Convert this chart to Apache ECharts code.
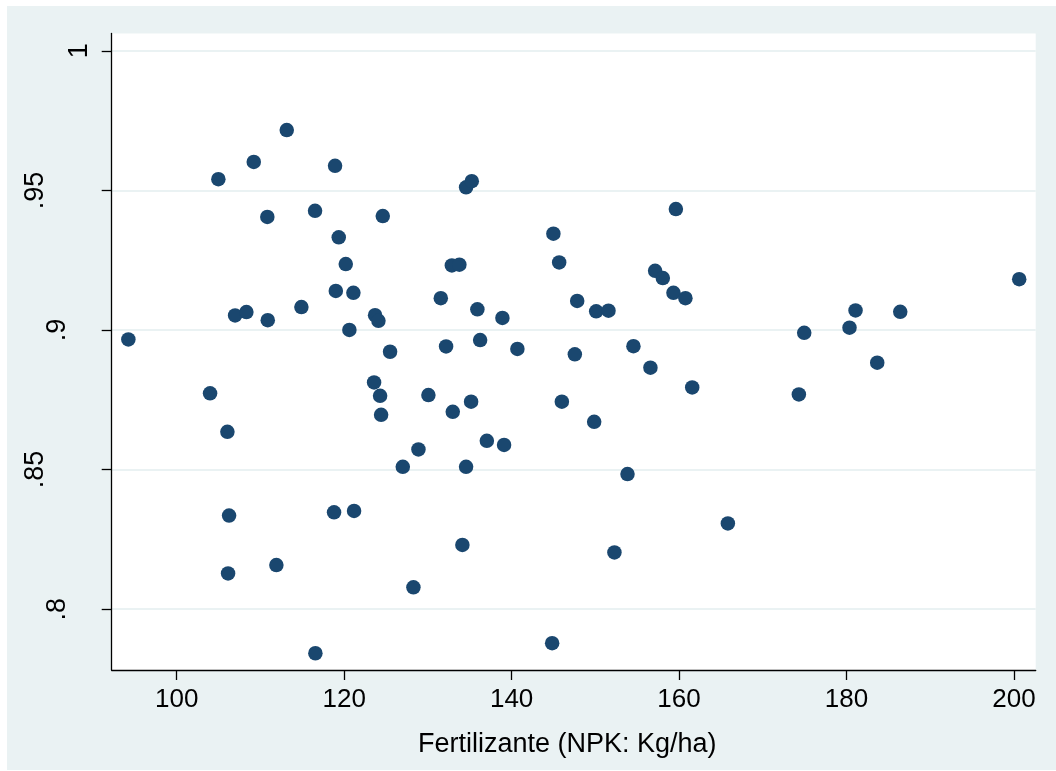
<!DOCTYPE html>
<html>
<head>
<meta charset="utf-8">
<script src="https://cdn.jsdelivr.net/npm/echarts@6/dist/echarts.min.js"></script>
<style>
  html, body { margin: 0; padding: 0; background: #fff; }
  #chart { width: 1056px; height: 771px; }
</style>
</head>
<body>
<div id="chart"></div>
<script>
// fertilizante (kg/ha) vs eficiencia
var fertilizante = [
  94.22, 103.98, 104.97, 106.05, 106.25, 106.13, 106.97, 108.32, 109.20, 110.82,
  110.87, 111.90, 113.14, 114.89, 116.52, 116.56, 118.79, 118.91, 119.00, 119.35,
  120.19, 120.62, 121.10, 121.18, 123.57, 123.69, 124.09, 124.29, 124.41, 124.61,
  125.48, 127.00, 128.27, 128.87, 130.06, 131.54, 132.17, 132.97, 132.86, 133.76,
  134.12, 134.56, 134.56, 135.24, 135.16, 135.91, 136.24, 137.04, 138.90, 139.10,
  140.69, 144.84, 144.99, 145.68, 146.00, 147.55, 147.83, 149.86, 150.10, 151.57,
  152.28, 153.84, 154.55, 156.58, 157.14, 158.06, 159.33, 159.62, 160.76, 161.57,
  165.83, 174.31, 174.95, 180.36, 181.08, 183.67, 186.42, 200.63
];
var eficiencia = [
  0.8966, 0.8773, 0.9540, 0.8635, 0.8335, 0.8128, 0.9052, 0.9064, 0.9602, 0.9405,
  0.9035, 0.8158, 0.9716, 0.9082, 0.9427, 0.7842, 0.8347, 0.9588, 0.9140, 0.9332,
  0.9236, 0.9000, 0.9133, 0.8352, 0.8812, 0.9053, 0.9033, 0.8764, 0.8696, 0.9408,
  0.8922, 0.8510, 0.8078, 0.8572, 0.8767, 0.9114, 0.8941, 0.8707, 0.9231, 0.9234,
  0.8230, 0.8510, 0.9511, 0.9533, 0.8743, 0.9074, 0.8964, 0.8603, 0.9043, 0.8588,
  0.8932, 0.7878, 0.9345, 0.9242, 0.8743, 0.8913, 0.9104, 0.8671, 0.9067, 0.9069,
  0.8203, 0.8484, 0.8942, 0.8865, 0.9212, 0.9186, 0.9133, 0.9433, 0.9114, 0.8794,
  0.8307, 0.8769, 0.8990, 0.9008, 0.9070, 0.8883, 0.9065, 0.9182
];
var xTicks = [100, 120, 140, 160, 180, 200];
var yTicks = [0.8, 0.85, 0.9, 0.95, 1];
var yTickLabels = ['.8', '.85', '.9', '.95', '1'];

var puntos = [];
for (var i = 0; i < fertilizante.length; i++) {
  puntos.push([fertilizante[i], eficiencia[i]]);
}

var myChart = echarts.init(document.getElementById('chart'));
var fuente = '"Liberation Sans", Arial, sans-serif';

myChart.setOption({
  backgroundColor: '#fff',
  animation: false,
  graphic: [{
    type: 'rect',
    z: -100,
    silent: true,
    shape: { x: 7, y: 6, width: 1049, height: 764 },
    style: { fill: '#EAF2F3' }
  }],
  grid: {
    left: 111.7,
    right: 20.3,
    top: 33.5,
    bottom: 101,
    show: true,
    backgroundColor: '#fff',
    borderWidth: 0
  },
  xAxis: {
    type: 'value',
    min: 92.23,
    max: 202.6,
    name: 'Fertilizante (NPK: Kg/ha)',
    nameLocation: 'middle',
    nameGap: 61,
    nameTextStyle: { fontFamily: fuente, fontSize: 27, color: '#000', padding: [0, 13, 0, 0] },
    axisLine: { show: true, onZero: false, lineStyle: { color: '#000', width: 1.3 } },
    axisTick: { show: true, length: 10, customValues: xTicks, lineStyle: { color: '#000', width: 1.3 } },
    axisLabel: { customValues: xTicks, margin: 17, fontFamily: fuente, fontSize: 26, color: '#000' },
    splitLine: { show: false }
  },
  yAxis: {
    type: 'value',
    min: 0.7782,
    max: 1.0062,
    axisLine: { show: true, onZero: false, lineStyle: { color: '#000', width: 1.3 } },
    axisTick: { show: true, length: 10, customValues: yTicks, lineStyle: { color: '#000', width: 1.3 } },
    axisLabel: {
      customValues: yTicks,
      rotate: 90,
      margin: 19,
      fontFamily: fuente,
      fontSize: 27,
      color: '#000',
      formatter: function (v) {
        var idx = yTicks.indexOf(v);
        var s = idx >= 0 ? yTickLabels[idx] : String(v);
        return '{l' + s.length + '|' + s + '}';
      },
      rich: {
        l1: { fontFamily: fuente, fontSize: 27, color: '#000', padding: [0, 0, 0, 0] },
        l2: { fontFamily: fuente, fontSize: 27, color: '#000', padding: [0, 0, 22, 0] },
        l3: { fontFamily: fuente, fontSize: 27, color: '#000', padding: [0, 0, 44, 0] }
      }
    },
    splitLine: { show: true, lineStyle: { color: '#EAF2F3', width: 2 } }
  },
  series: [{
    type: 'scatter',
    data: puntos,
    symbol: 'circle',
    symbolSize: 14.5,
    itemStyle: { color: '#1A476F', opacity: 1 }
  }]
});
</script>
</body>
</html>
